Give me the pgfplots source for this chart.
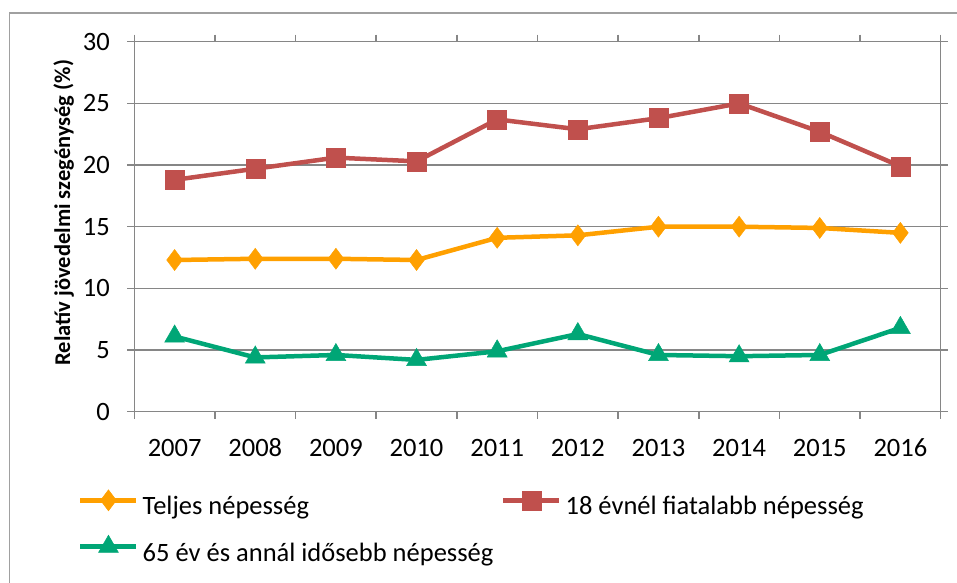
\documentclass[border=0pt]{standalone}
\usepackage{fontspec}
\setmainfont{Carlito}
\usepackage{pgfplots}
\pgfplotsset{compat=1.18}
\definecolor{cOr}{RGB}{255,160,0}
\definecolor{cRd}{RGB}{192,80,77}
\definecolor{cGr}{RGB}{0,166,118}
\definecolor{cAx}{RGB}{134,134,134}
\definecolor{cFr}{RGB}{160,160,160}
\newcommand\tfont{\fontsize{26.5}{31}\selectfont}
\newcommand\lfont{\fontsize{22.5}{27}\selectfont\bfseries}
\begin{document}
\begin{tikzpicture}[x=1pt,y=1pt]
\begin{axis}[
  scale only axis, width=806.4pt, height=370pt,
  xmin=-0.5, xmax=9.5, ymin=0, ymax=30,
  xtick={0,...,9},
  xticklabels={2007,2008,2009,2010,2011,2012,2013,2014,2015,2016},
  minor xtick={-0.5,0.5,...,9.5},
  ytick={0,5,...,30},
  major x tick style={draw=none},
  tick align=outside,
  major tick length=7pt, minor tick length=7pt,
  tick style={cAx, line width=1.5pt},
  axis line style={cAx, line width=1.5pt},
  ymajorgrids, grid style={cAx, line width=1.5pt},
  /pgf/number format/assume math mode=true,
  tick label style={font=\tfont, inner sep=0pt, text height=17pt, text depth=0pt},
  xticklabel style={anchor=north, yshift=-20.3pt},
  yticklabel style={anchor=east, xshift=-17.3pt},
  ylabel={Relatív jövedelmi szegénység (\%)},
  ylabel style={font=\lfont, at={(axis description cs:-0.0875,0.538)}, anchor=center},
  legend columns=2,
  legend style={at={(axis description cs:-0.0698,-0.2106)}, anchor=north west,
    draw=none, inner sep=0pt, font=\tfont, row sep=15.4pt, column sep=4pt,
    nodes={inner sep=0pt, text height=17pt, text depth=5pt}},
  legend cell align=left,
  legend image code/.code={
    \draw[mark repeat=2,mark phase=2,#1] plot coordinates {(0pt,8.5pt) (28pt,8.5pt) (56pt,8.5pt)};
  },
  every axis plot/.append style={line width=4.5pt, mark options={solid, line width=0.5pt}},
]
\coordinate (O) at (rel axis cs:0,0);
\addplot[color=cOr, mark=diamond*, mark size=10.5pt] coordinates {
(0,12.3) (1,12.4) (2,12.4) (3,12.3) (4,14.1) (5,14.3) (6,15.0) (7,15.0) (8,14.9) (9,14.5)};
\addlegendentry{\makebox[354.4pt][l]{Teljes népesség}}
\addplot[color=cRd, mark=square*, mark size=9.5pt] coordinates {
(0,18.8) (1,19.7) (2,20.6) (3,20.3) (4,23.7) (5,22.9) (6,23.8) (7,25.0) (8,22.7) (9,19.9)};
\addlegendentry{18 évnél fiatalabb népesség}
\addplot[color=cGr, mark=triangle*, mark size=11.5pt] coordinates {
(0,6.1) (1,4.4) (2,4.6) (3,4.2) (4,4.9) (5,6.3) (6,4.6) (7,4.5) (8,4.6) (9,6.8)};
\addlegendentry{\makebox[354.4pt][l]{65 év és annál idősebb népesség}}
\end{axis}
\path ([shift={(-134.3,-170.3)}]O) coordinate (P);
\pgfresetboundingbox
\path[use as bounding box] (P) rectangle ([shift={(957,582)}]P);
\draw[cFr, line width=1.5pt] ([shift={(9.5,-5)}]P) -- ([shift={(9.5,569)}]P) -- ([shift={(965,569)}]P);
\end{tikzpicture}
\end{document}
